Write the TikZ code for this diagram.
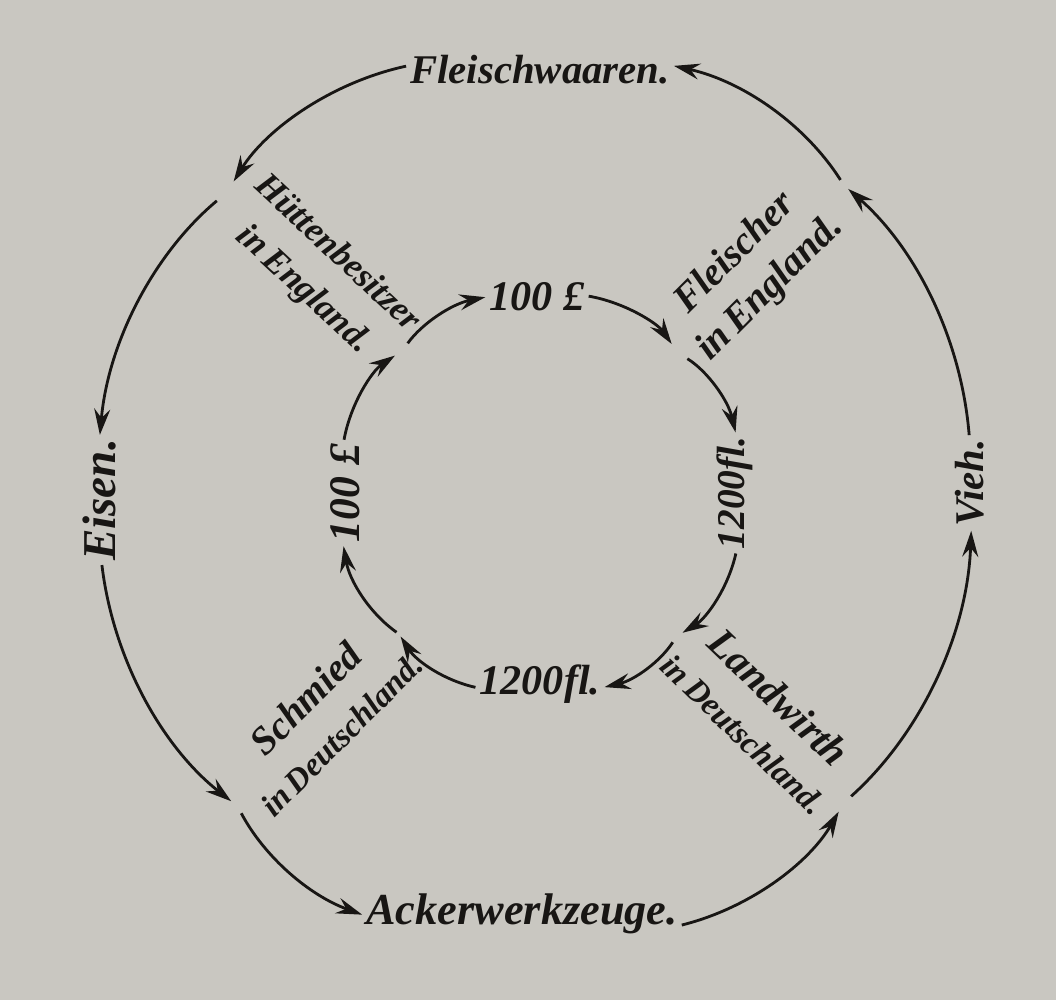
\documentclass[tikz,border=0pt]{standalone}
\usepackage{fontspec}
\setmainfont{Liberation Serif}
\usepackage{tikz}
\usetikzlibrary{arrows.meta}
\definecolor{paper}{RGB}{201,199,193}
\definecolor{ink}{RGB}{24,22,20}
\newcommand{\smallline}[1]{{\fontsize{9.4}{14}\selectfont #1}}

\begin{document}
\begin{tikzpicture}[
    lbl/.style={font=\fontsize{#1}{14}\selectfont\bfseries\itshape, text=ink, inner sep=1pt, align=center},
    lbl/.default=11.5,
    flow/.style={draw=ink, line width=0.8pt, -{Stealth[length=2.6mm,width=1.6mm,inset=0.9mm]}, looseness=0.88}
    ]
    % Paper
    \fill[paper] (-5.39,-5.06) rectangle (5.17,4.94);
    \useasboundingbox (-5.39,-5.06) rectangle (5.17,4.94);

    % Outer ring: goods and the four traders
    \node[lbl=11.6] (fw) at (0.01,4.24) {Fleischwaaren.};
    \node[lbl=13.4,rotate=90] (eis) at (-4.39,-0.06) {Eisen.};
    \node[lbl=12.6] (ack) at (-0.17,-4.20) {Ackerwerkzeuge.};
    \node[lbl=11.6,rotate=90] (vieh) at (4.31,0.11) {Vieh.};

    \node[lbl=10.1,rotate=-43] (huette) at (-2.19,2.22) {Hüttenbesitzer\\in\,England.};
    \node[lbl=11.2,rotate=45] (fleischer) at (2.14,2.23) {Fleischer\\in\,England.};
    \node[lbl=11.2,rotate=45] (schmied) at (-2.16,-2.22) {Schmied\\\smallline{in\,Deutschland.}};
    \node[lbl=11.6,rotate=-44] (landwirth) at (2.23,-2.21) {Landwirth\\\smallline{in\,Deutschland.}};

    \coordinate (oUL) at (136:4.34);
    \coordinate (oLL) at (226:4.34);
    \coordinate (oLR) at (314.6:4.34);
    \coordinate (oUR) at (45.4:4.34);

    % Inner ring: money
    \node[lbl=12] (iT) at (-0.02,1.97) {100 £};
    \node[lbl=11.2,rotate=90] (iR) at (1.96,0.01) {1200fl.};
    \node[lbl=12] (iB) at (0.01,-1.90) {1200fl.};
    \node[lbl=12.4,rotate=90] (iL) at (-1.94,0.01) {100 £};

    \coordinate (iUL) at (133.6:1.98);
    \coordinate (iUR) at (45.4:1.98);
    \coordinate (iLR) at (314:1.98);
    \coordinate (iLL) at (225:1.98);

    % goods go round anticlockwise
    \draw[flow,shorten >=1.3mm] (fw) to[bend right=23] (oUL);
    \draw[flow,shorten <=1.3mm] (oUL) to[bend right=22.5] (eis);
    \draw[flow,shorten >=0.8mm] (eis) to[bend right=22.5] (oLL);
    \draw[flow,shorten <=0.8mm] (oLL) to[bend right=21] (ack);
    \draw[flow,shorten >=1mm] (ack) to[bend right=23] (oLR);
    \draw[flow,shorten <=1mm] (oLR) to[bend right=23] (vieh);
    \draw[flow,shorten >=0.6mm] (vieh) to[bend right=22] (oUR);
    \draw[flow,shorten <=0.6mm] (oUR) to[bend right=22.5] (fw);

    % money goes round clockwise
    \draw[flow,shorten <=0.9mm] (iUL) to[bend left=21.5] (iT);
    \draw[flow,shorten >=1.1mm] (iT) to[bend left=22.6] (iUR);
    \draw[flow,shorten <=1.1mm] (iUR) to[bend left=22.7] (iR);
    \draw[flow,shorten >=0.7mm] (iR) to[bend left=23] (iLR);
    \draw[flow,shorten <=0.7mm] (iLR) to[bend left=22] (iB);
    \draw[flow,shorten >=0.3mm] (iB) to[bend left=22.5] (iLL);
    \draw[flow,shorten <=0.3mm] (iLL) to[bend left=22.5] (iL);
    \draw[flow,shorten >=0.9mm] (iL) to[bend left=23] (iUL);
\end{tikzpicture}
\end{document}
